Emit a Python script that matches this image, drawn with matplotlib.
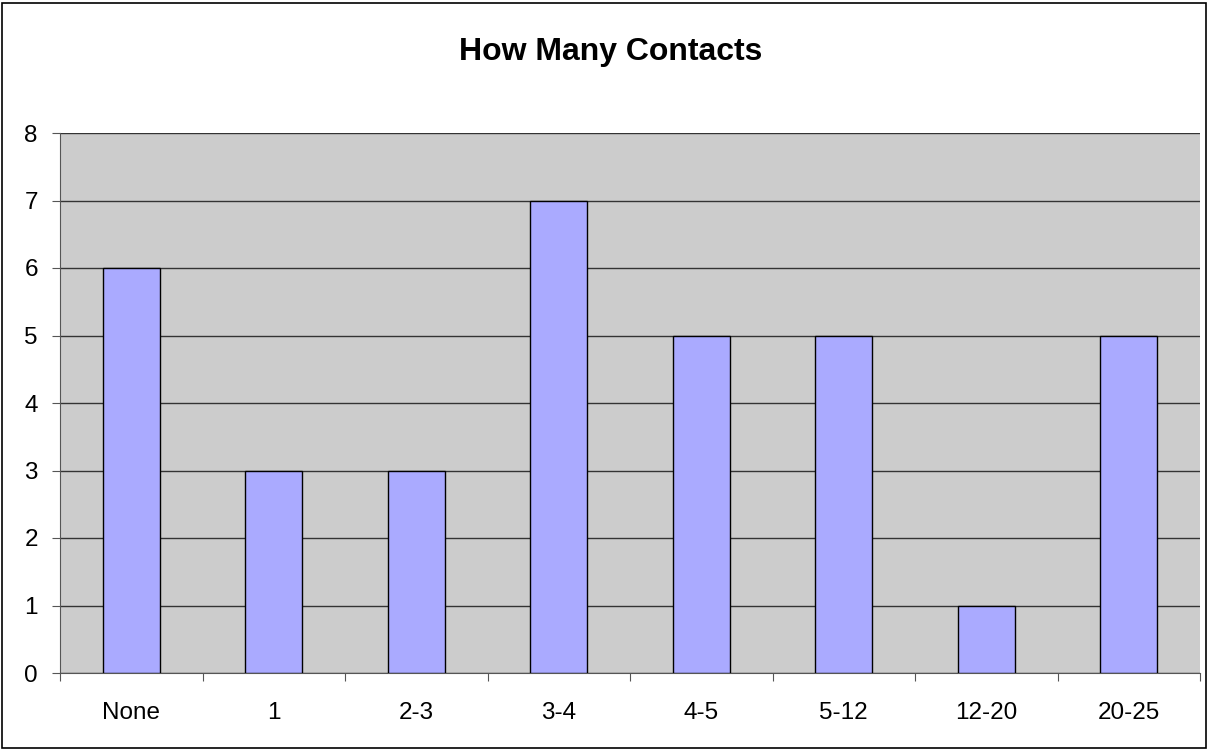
import numpy as np
import matplotlib.pyplot as plt
from matplotlib.patches import Rectangle

plt.rcParams['font.family'] = ['Liberation Sans', 'DejaVu Sans']

# Data
categories = ["None", "1", "2-3", "3-4", "4-5", "5-12", "12-20", "20-25"]
counts = [6, 3, 3, 7, 5, 5, 1, 5]

fig = plt.figure(figsize=(12.09, 7.5), dpi=100)
ax = fig.add_axes([60 / 1209, 1 - 673 / 750, 1140 / 1209, 540 / 750])

x = np.arange(len(categories))
ax.set_facecolor("#cccccc")
ax.bar(x, counts, width=0.4, color="#aaaaff", edgecolor="black", linewidth=1, zorder=3)

ax.set_xlim(-0.5, len(categories) - 0.5)
ax.set_ylim(0, 8)
ax.set_yticks(range(0, 9))
ax.yaxis.grid(True, color="#333333", linewidth=1, zorder=1)
ax.set_axisbelow(True)

# ticks at category boundaries, labels centered
ax.set_xticks(np.arange(-0.5, len(categories), 1))
ax.set_xticklabels([])
ax.set_xticks(x, minor=True)
ax.set_xticklabels(categories, minor=True)
ax.tick_params(axis="x", which="minor", length=0, pad=21, labelsize=17.5)
ax.tick_params(axis="x", which="major", length=6, direction="out", color="#555555")
ax.tick_params(axis="y", length=6, direction="out", color="#555555", labelsize=17.5, pad=10)

for side in ["top", "right"]:
    ax.spines[side].set_visible(False)
ax.spines["left"].set_color("#555555")
ax.spines["bottom"].set_color("#555555")

fig.text(611 / 1209, 1 - 52 / 750, "How Many Contacts", ha="center", va="center",
         fontsize=23, fontweight="bold")

# chart border
fig.patches.append(Rectangle((2 / 1209, 2 / 750), 1204 / 1209, 745 / 750,
                             transform=fig.transFigure, fill=False,
                             edgecolor="black", linewidth=1.2))

fig.savefig("out.png", dpi=100)
